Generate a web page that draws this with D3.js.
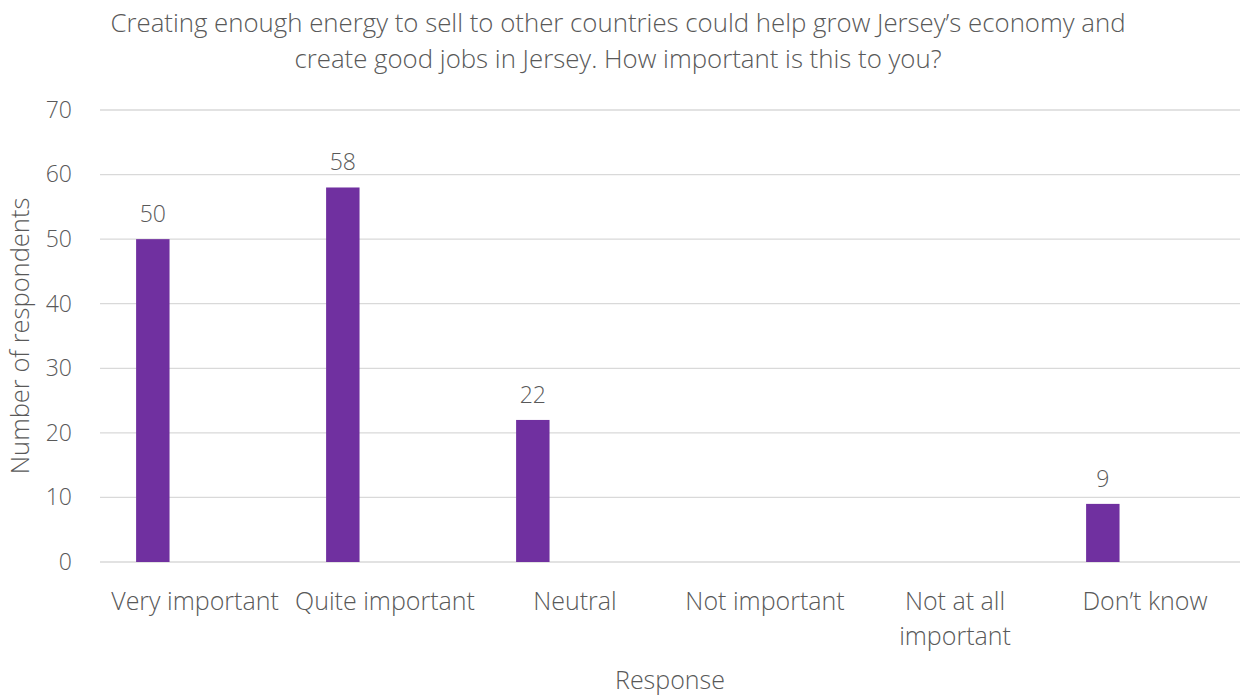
<!DOCTYPE html>
<html>
<head>
<meta charset="utf-8">
<script src="https://cdn.jsdelivr.net/npm/d3@7"></script>
<style>
  body { margin: 0; background: #fff; }
  svg text { font-family: "Open Sans", "Noto Sans", sans-serif; font-weight: 350; fill: #595959; }
</style>
</head>
<body>
<svg id="chart" width="1240" height="695"></svg>
<script>
// Survey responses
const categories = ["Very important", "Quite important", "Neutral", "Not important", "Not at all important", "Don\u2019t know"];
const values = [50, 58, 22, 0, 0, 9];
const yTicks = [0, 10, 20, 30, 40, 50, 60, 70];
const titleLines = [
  "Creating enough energy to sell to other countries could help grow Jersey\u2019s economy and",
  "create good jobs in Jersey. How important is this to you?"
];
const categoryLines = {
  "Not at all important": ["Not at all", "important"]
};

const svg = d3.select("#chart");
const margin = { left: 100, right: 0, top: 110, bottom: 133 };
const W = 1240, H = 695;

const x = d3.scaleBand().domain(categories).range([margin.left, W - margin.right]).padding(0);
const y = d3.scaleLinear().domain([0, 70]).range([H - margin.bottom, margin.top]);

// gridlines
svg.append("g").selectAll("line").data(yTicks).join("line")
  .attr("x1", margin.left).attr("x2", W - margin.right)
  .attr("y1", d => y(d)).attr("y2", d => y(d))
  .attr("stroke", "#d9d9d9").attr("stroke-width", 1.3);

// y tick labels
const yAxis = svg.append("g").attr("transform", `translate(${margin.left},0)`)
  .call(d3.axisLeft(y).tickValues(yTicks).tickSize(0).tickPadding(28));
yAxis.select(".domain").remove();
yAxis.selectAll("text").attr("font-size", 23).attr("fill", "#595959").attr("font-family", null);

// bars (offset inside each category band)
const barOffset = x.bandwidth() * 0.19;
const barWidth = x.bandwidth() * 0.176;
const rows = categories.map((c, i) => ({ c, v: values[i] }));

svg.append("g").selectAll("rect").data(rows.filter(d => d.v > 0)).join("rect")
  .attr("x", d => x(d.c) + barOffset)
  .attr("width", barWidth)
  .attr("y", d => y(d.v))
  .attr("height", d => y(0) - y(d.v))
  .attr("fill", "#7030A0");

// value labels
svg.append("g").selectAll("text").data(rows.filter(d => d.v > 0)).join("text")
  .attr("x", d => x(d.c) + barOffset + barWidth / 2)
  .attr("y", d => y(d.v) - 17)
  .attr("text-anchor", "middle")
  .attr("font-size", 23)
  .text(d => d.v);

// category labels
const catG = svg.append("g");
categories.forEach(c => {
  const lines = categoryLines[c] || [c];
  const t = catG.append("text")
    .attr("x", x(c) + x.bandwidth() / 2)
    .attr("y", 610)
    .attr("text-anchor", "middle")
    .attr("font-size", 25);
  lines.forEach((ln, i) => {
    t.append("tspan").attr("x", x(c) + x.bandwidth() / 2).attr("dy", i === 0 ? 0 : 35).text(ln);
  });
});

// axis titles
svg.append("text")
  .attr("x", (margin.left + W - margin.right) / 2).attr("y", 689)
  .attr("text-anchor", "middle").attr("font-size", 25)
  .text("Response");

svg.append("text")
  .attr("transform", `translate(29,${(y(0) + y(70)) / 2}) rotate(-90)`)
  .attr("text-anchor", "middle").attr("font-size", 25.5)
  .text("Number of respondents");

// chart title
svg.append("g").selectAll("text").data(titleLines).join("text")
  .attr("x", 618).attr("y", (d, i) => 32 + i * 36)
  .attr("text-anchor", "middle").attr("font-size", 25.8)
  .text(d => d);
</script>
</body>
</html>
